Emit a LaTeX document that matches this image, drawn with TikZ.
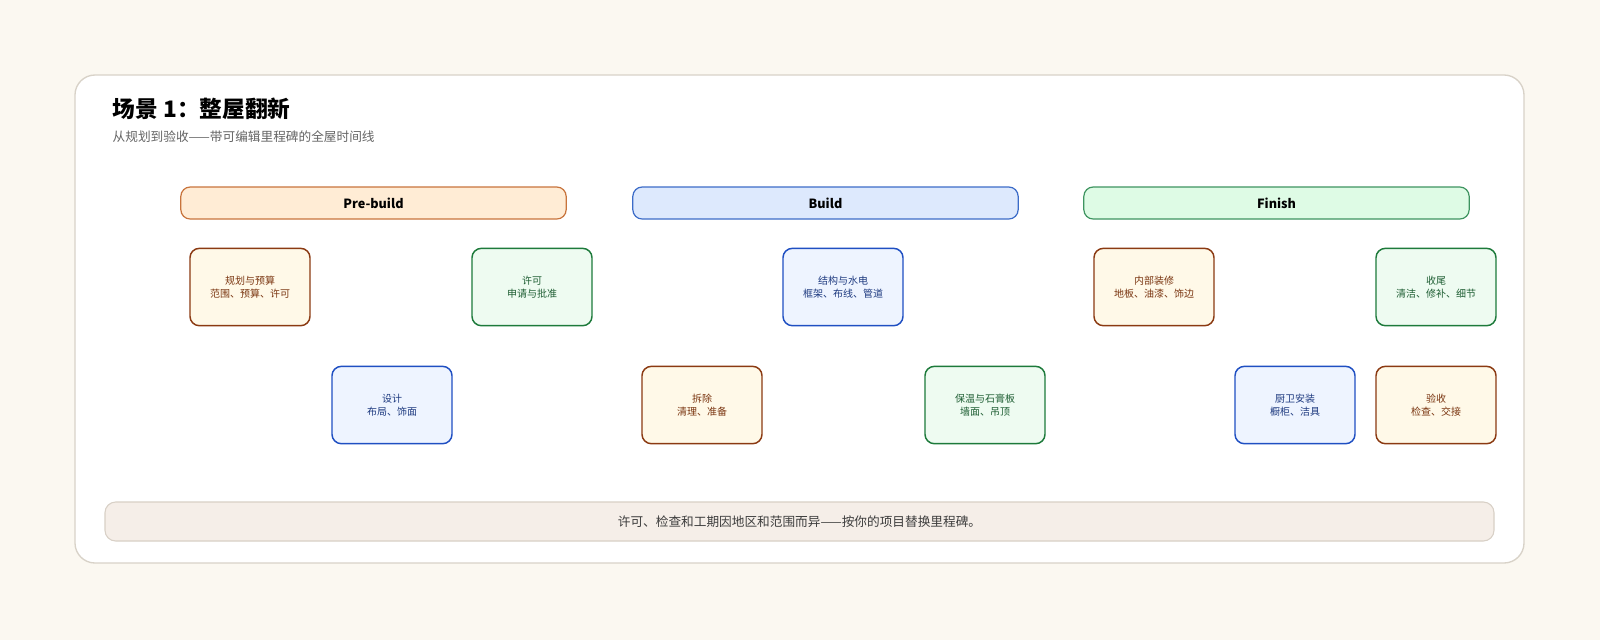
\documentclass[tikz,border=0pt]{standalone}
\usepackage{fontspec}
\setmainfont{Noto Sans CJK SC}
\begin{document}
\definecolor{bg}{HTML}{FBF8F1}
\definecolor{ofill}{HTML}{FFF9E8}\definecolor{odraw}{HTML}{8B3A12}\definecolor{otext}{HTML}{7A3510}
\definecolor{gfill}{HTML}{EEFBF1}\definecolor{gdraw}{HTML}{1D7A3B}\definecolor{gtext}{HTML}{1E5E33}
\definecolor{bfill}{HTML}{EEF4FF}\definecolor{bdraw}{HTML}{1F4FC2}\definecolor{btext}{HTML}{1E3A80}
\definecolor{p1d}{HTML}{C8743C}\definecolor{p1f}{HTML}{FFECD5}
\definecolor{p2d}{HTML}{3C6CC8}\definecolor{p2f}{HTML}{DDE9FD}
\definecolor{p3d}{HTML}{3E9460}\definecolor{p3f}{HTML}{DEFBE5}
\definecolor{card}{HTML}{D8D2C8}\definecolor{subt}{HTML}{646464}
\definecolor{footd}{HTML}{D8D0C6}\definecolor{footf}{HTML}{F5EEE8}\definecolor{foott}{HTML}{3C3C3C}
\begin{tikzpicture}[x=0.75pt,y=-0.75pt,
  phase/.style={draw=#1, line width=0.9pt, rounded corners=7pt, minimum width=289pt, minimum height=24pt, inner sep=0pt, font=\bfseries\fontsize{9.5}{11}\selectfont},
  box/.style n args={3}{draw=#2, fill=#1, text=#3, line width=1.1pt, rounded corners=7pt, minimum width=90pt, minimum height=58pt, inner sep=0pt, align=center, font=\fontsize{7.5}{10}\selectfont},
  ob/.style={box={ofill}{odraw}{otext}}, gb/.style={box={gfill}{gdraw}{gtext}}, bb/.style={box={bfill}{bdraw}{btext}}]
\fill[bg] (0,0) rectangle (1600,640);
\path[use as bounding box] (0,0) rectangle (1600,640);
\draw[draw=card, fill=white, line width=1pt, rounded corners=15pt] (75,75) rectangle (1524,563);
\node[anchor=west, font=\bfseries\fontsize{17}{20}\selectfont] (title) at (108,109) {场景 1：整屋翻新};
\node[anchor=west, text=subt, font=\fontsize{9.5}{12}\selectfont] (sub) at (108,137) {从规划到验收——带可编辑里程碑的全屋时间线};
\node[phase=p1d, fill=p1f] (p1) at (373.5,203) {Pre-build};
\node[phase=p2d, fill=p2f] (p2) at (825.5,203) {Build};
\node[phase=p3d, fill=p3f] (p3) at (1276.5,203) {Finish};
\node[ob] (n1) at (250,287) {规划与预算\\范围、预算、许可};
\node[gb] (n2) at (532,287) {许可\\申请与批准};
\node[bb] (n3) at (843,287) {结构与水电\\框架、布线、管道};
\node[ob] (n4) at (1154,287) {内部装修\\地板、油漆、饰边};
\node[gb] (n5) at (1436,287) {收尾\\清洁、修补、细节};
\node[bb] (m1) at (392,405) {设计\\布局、饰面};
\node[ob] (m2) at (702,405) {拆除\\清理、准备};
\node[gb] (m3) at (985,405) {保温与石膏板\\墙面、吊顶};
\node[bb] (m4) at (1295,405) {厨卫安装\\橱柜、洁具};
\node[ob] (m5) at (1436,405) {验收\\检查、交接};
\draw[draw=footd, fill=footf, line width=0.8pt, rounded corners=8pt] (105,502) rectangle (1494,541);
\node[text=foott, font=\fontsize{9.5}{12}\selectfont] (foot) at (799.5,521.5) {许可、检查和工期因地区和范围而异——按你的项目替换里程碑。};
\end{tikzpicture}
\end{document}
